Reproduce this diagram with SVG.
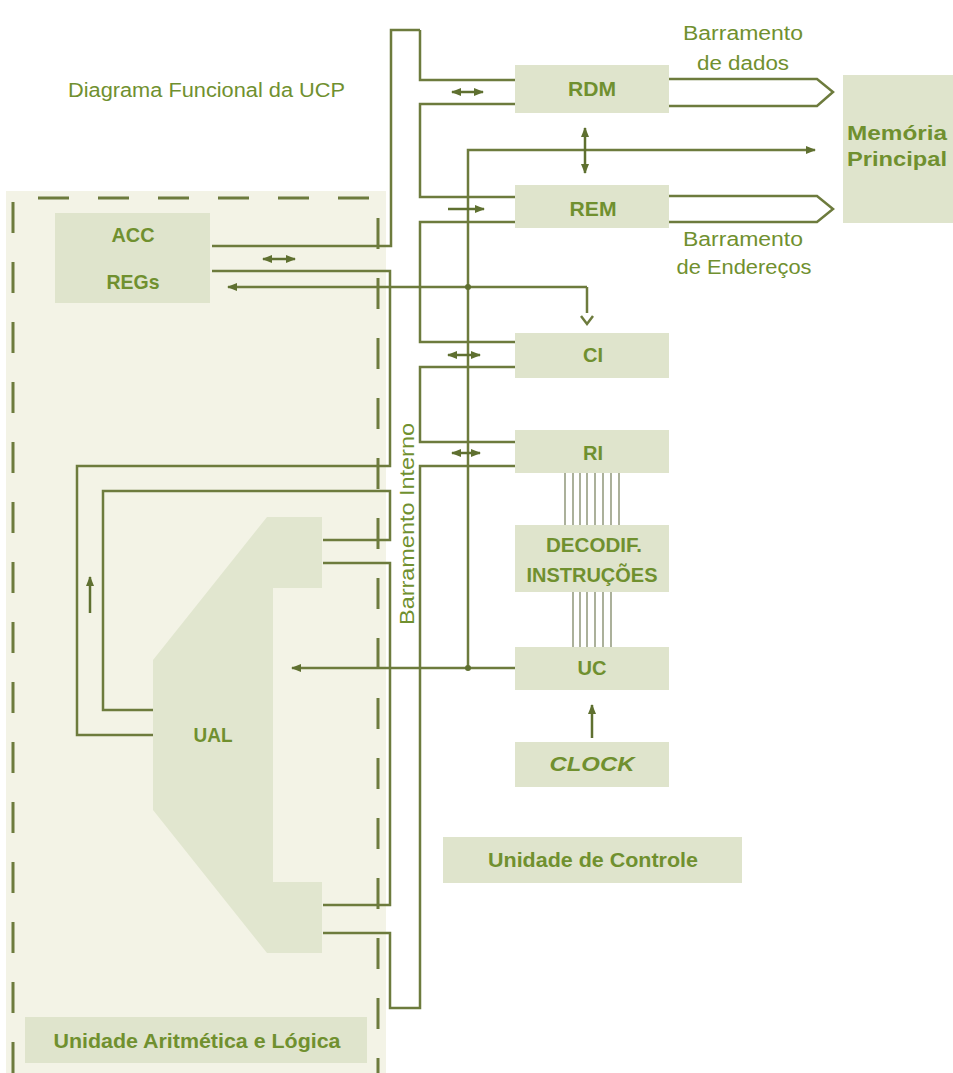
<svg xmlns="http://www.w3.org/2000/svg" width="953" height="1073" viewBox="0 0 953 1073">
<style>
.box{fill:#dfe4cc}
.ln{fill:none;stroke:#6d7b3d;stroke-width:2.5}
.thin{fill:none;stroke:#7f8766;stroke-width:1.3}
.ar{fill:none;stroke:#5f7030;stroke-width:2.5}
.t{font-family:"Liberation Sans",Arial,sans-serif;font-weight:bold;fill:#70902f;font-size:21px;text-anchor:middle;dominant-baseline:central}
.r{font-weight:normal;font-size:20px}
</style>
<defs>
<marker id="ah" viewBox="0 0 10 10" refX="9" refY="5" markerWidth="4" markerHeight="4" orient="auto-start-reverse" markerUnits="strokeWidth">
<path d="M0,1 L10,5 L0,9 z" fill="#5f7030"/>
</marker>
</defs>
<rect width="953" height="1073" fill="#ffffff"/>

<g id="ula-area">
<rect x="6" y="191" width="380" height="882" fill="#f3f3e6"/>
<path d="M13,1073 V198 H378 V1073" fill="none" stroke="#6d7b3d" stroke-width="3" stroke-dasharray="31 29"/>
</g>

<text class="t r" x="68" y="90" style="text-anchor:start" textLength="277" lengthAdjust="spacingAndGlyphs">Diagrama Funcional da UCP</text>

<g id="memoria">
<rect class="box" x="843" y="75" width="110" height="148"/>
<text class="t" x="897" y="132" textLength="100" lengthAdjust="spacingAndGlyphs">Memória</text>
<text class="t" x="897" y="158" textLength="100" lengthAdjust="spacingAndGlyphs">Principal</text>
</g>

<g id="rdm">
<rect class="box" x="515" y="65" width="154" height="48"/>
<text class="t" x="592" y="88" textLength="48" lengthAdjust="spacingAndGlyphs">RDM</text>
</g>
<g id="rem">
<rect class="box" x="515" y="185" width="154" height="43"/>
<text class="t" x="593" y="208" textLength="47" lengthAdjust="spacingAndGlyphs">REM</text>
</g>
<g id="ci">
<rect class="box" x="515" y="333" width="154" height="45"/>
<text class="t" x="593" y="354" textLength="20" lengthAdjust="spacingAndGlyphs">CI</text>
</g>
<g id="ri">
<rect class="box" x="515" y="430" width="154" height="43"/>
<text class="t" x="593" y="452" textLength="20" lengthAdjust="spacingAndGlyphs">RI</text>
</g>
<g id="decodif">
<rect class="box" x="515" y="525" width="154" height="67"/>
<text class="t" x="594" y="544" textLength="96" lengthAdjust="spacingAndGlyphs">DECODIF.</text>
<text class="t" x="592" y="574" textLength="131" lengthAdjust="spacingAndGlyphs">INSTRUÇÕES</text>
</g>
<g id="uc">
<rect class="box" x="515" y="647" width="154" height="43"/>
<text class="t" x="592" y="667" textLength="29" lengthAdjust="spacingAndGlyphs">UC</text>
</g>
<g id="clock">
<rect class="box" x="515" y="742" width="154" height="45"/>
<text class="t" x="592" y="763" style="font-style:italic" textLength="85" lengthAdjust="spacingAndGlyphs">CLOCK</text>
</g>
<g id="unidade-controle">
<rect class="box" x="443" y="837" width="299" height="46"/>
<text class="t" x="593" y="859" textLength="210" lengthAdjust="spacingAndGlyphs">Unidade de Controle</text>
</g>
<g id="acc-regs">
<rect class="box" x="55" y="213" width="155" height="90"/>
<text class="t" x="133" y="234" textLength="43" lengthAdjust="spacingAndGlyphs">ACC</text>
<text class="t" x="133" y="281" textLength="53" lengthAdjust="spacingAndGlyphs">REGs</text>
</g>
<g id="ual">
<polygon points="267,517 322,517 322,588 273,588 273,882 322,882 322,953 267,953 153,810 153,660" fill="#e1e6cf"/>
<text class="t" x="213" y="734" textLength="39" lengthAdjust="spacingAndGlyphs">UAL</text>
</g>
<g id="ual-label">
<rect class="box" x="25" y="1017" width="342" height="46"/>
<text class="t" x="197" y="1040" textLength="287" lengthAdjust="spacingAndGlyphs">Unidade Aritmética e Lógica</text>
</g>

<g id="labels">
<text class="t r" x="743" y="33" textLength="120" lengthAdjust="spacingAndGlyphs">Barramento</text>
<text class="t r" x="743" y="63" textLength="92" lengthAdjust="spacingAndGlyphs">de dados</text>
<text class="t r" x="743" y="239" textLength="120" lengthAdjust="spacingAndGlyphs">Barramento</text>
<text class="t r" x="744" y="267" textLength="135" lengthAdjust="spacingAndGlyphs">de Endereços</text>
<text class="t r" x="0" y="0" transform="translate(407,524) rotate(-90)" textLength="202" lengthAdjust="spacingAndGlyphs">Barramento Interno</text>
</g>

<g id="connectors">
<path class="ln" d="M420,30 V80 H515"/>
<path class="ln" d="M515,104 H420 V197 H515"/>
<path class="ln" d="M515,222 H420 V342 H515"/>
<path class="ln" d="M515,367 H420 V442 H515"/>
<path class="ln" d="M515,466 H420 V1008 H390 V933 H323"/>
<path class="ln" d="M420,30 H391 V246 H212"/>
<path class="ln" d="M212,271 H390 V466 H77 V735 H153"/>
<path class="ln" d="M153,710 H103 V491 H390 V540 H323"/>
<path class="ln" d="M323,563 H390 V905 H323"/>
<path class="ln" d="M669,79 H817 L833,92 L817,106 H669"/>
<path class="ln" d="M669,196 H817 L833,209 L817,222 H669"/>
<path class="ln" d="M515,668 H292" marker-end="url(#ah)"/>
<path class="ln" d="M468,668 V150 H815" marker-end="url(#ah)"/>
<path class="ln" d="M587,287 H228" marker-end="url(#ah)"/>
<path class="ln" d="M587,287 V313"/>
<polyline class="ln" points="581,316 587,324 593,316"/>
<circle cx="468" cy="668" r="3" fill="#5f7030"/>
<circle cx="468" cy="287" r="3" fill="#5f7030"/>
<path class="ar" d="M452,92 H483" marker-start="url(#ah)" marker-end="url(#ah)"/>
<path class="ar" d="M448,209 H484" marker-end="url(#ah)"/>
<path class="ar" d="M448,355 H480" marker-start="url(#ah)" marker-end="url(#ah)"/>
<path class="ar" d="M452,453 H480" marker-start="url(#ah)" marker-end="url(#ah)"/>
<path class="ar" d="M263,259 H295" marker-start="url(#ah)" marker-end="url(#ah)"/>
<path class="ar" d="M585,128 V173" marker-start="url(#ah)" marker-end="url(#ah)"/>
<path class="ar" d="M90,613 V577" marker-end="url(#ah)"/>
<path class="ar" d="M592,738 V705" marker-end="url(#ah)"/>
<path class="thin" d="M565,473 V525 M573,473 V525 M580,473 V525 M587,473 V525 M595,473 V525 M603,473 V525 M611,473 V525 M619,473 V525"/>
<path class="thin" d="M573,592 V647 M580,592 V647 M587,592 V647 M595,592 V647 M603,592 V647 M611,592 V647"/>
</g>
</svg>
